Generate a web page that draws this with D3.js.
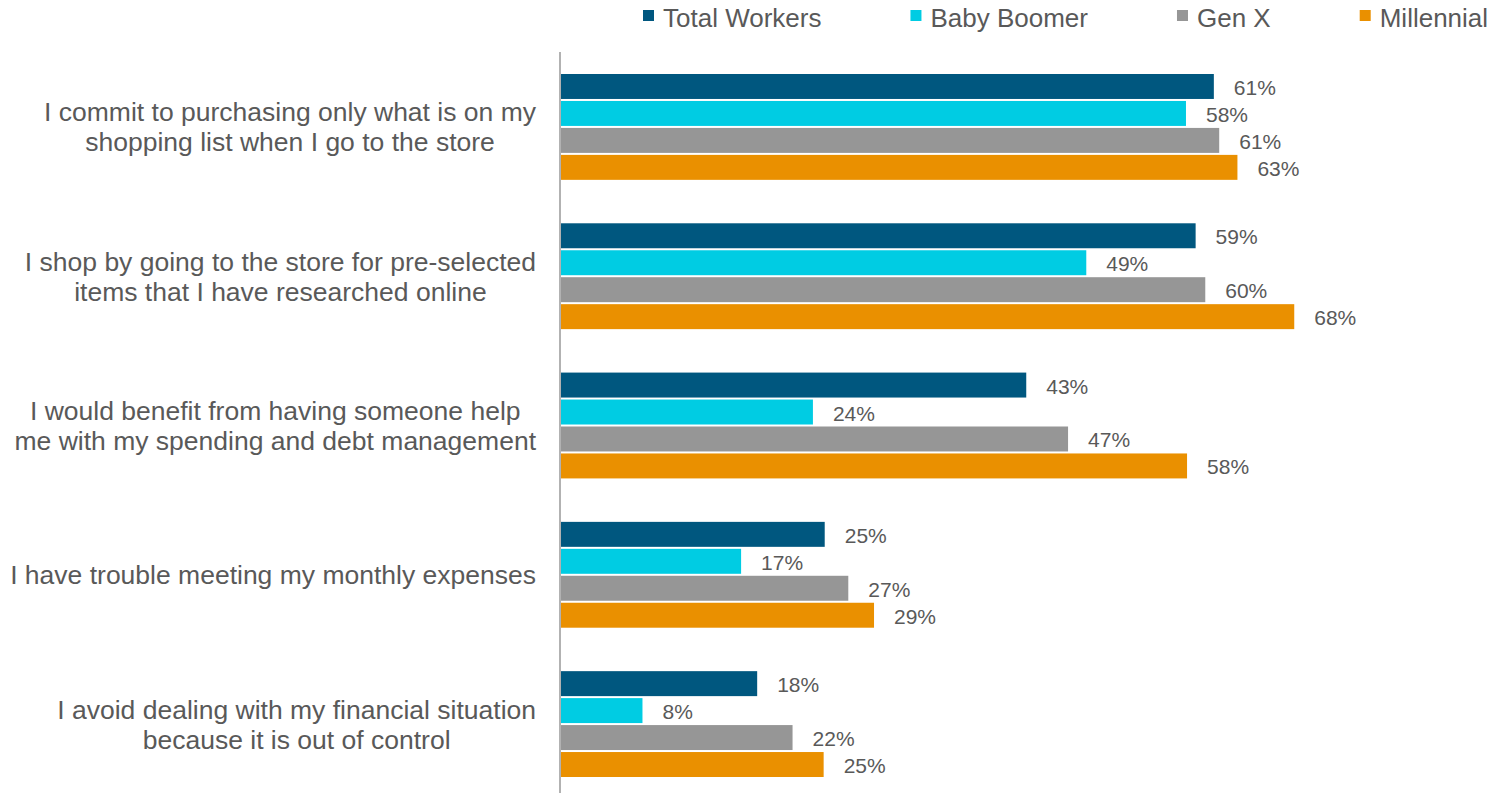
<!DOCTYPE html>
<html lang="en">
  <head>
    <meta charset="utf-8">
    <script src="https://d3js.org/d3.v7.min.js"></script>
    <style>
      body { margin: 0; background: #fff; }
      text { font-family: "Liberation Sans", Arial, sans-serif; fill: #595959; }
    </style>
  </head>
  <body>
    <div id="chart">
      <svg width="1489" height="793"></svg>
    </div>
    <script type="text/javascript">
      // Data
      var categories = [
        "I commit to purchasing only what is on my\nshopping list when I go to the store",
        "I shop by going to the store for pre-selected\nitems that I have researched online",
        "I would benefit from having someone help\nme with my spending and debt management",
        "I have trouble meeting my monthly expenses",
        "I avoid dealing with my financial situation\nbecause it is out of control"
      ];
      var seriesNames = ["Total Workers", "Baby Boomer", "Gen X", "Millennial"];
      var seriesColors = ["#00577f", "#00cce3", "#969696", "#ea9000"];
      var totalWorkers = [60.9, 59.2, 43.4, 24.6, 18.3];
      var babyBoomer   = [58.3, 49.0, 23.5, 16.8, 7.6];
      var genX         = [61.4, 60.1, 47.3, 26.8, 21.6];
      var millennial   = [63.1, 68.4, 58.4, 29.2, 24.5];
      var seriesValues = [totalWorkers, babyBoomer, genX, millennial];

      // SVG
      var svg = d3.select("svg");

      // Scales
      var xScale = d3.scaleLinear()
        .domain([0, 100])
        .range([561, 561 + 1072]);
      var yScale = d3.scaleBand()
        .domain(d3.range(categories.length))
        .range([74, 777])
        .paddingInner(0.291)
        .paddingOuter(0);
      var ySub = d3.scaleBand()
        .domain(d3.range(seriesNames.length))
        .range([0, yScale.bandwidth()])
        .paddingInner(0.074)
        .paddingOuter(0);

      // Bars and labels
      var labelSize = 21;
      seriesValues.forEach(function(vals, s) {
        var g = svg.append("g");
        g.selectAll("rect")
          .data(vals)
          .enter().append("rect")
          .attr("x", xScale(0))
          .attr("y", function(d, i) { return yScale(i) + ySub(s); })
          .attr("width", function(d) { return xScale(d) - xScale(0); })
          .attr("height", ySub.bandwidth())
          .style("fill", seriesColors[s]);
        g.selectAll("text")
          .data(vals)
          .enter().append("text")
          .attr("x", function(d) { return xScale(d) + 20; })
          .attr("y", function(d, i) {
            return yScale(i) + ySub(s) + ySub.bandwidth() / 2 + 0.358 * labelSize + 1;
          })
          .style("font-size", labelSize + "px")
          .text(function(d) { return Math.round(d) + "%"; });
      });

      // Vertical axis line
      svg.append("line")
        .attr("x1", 560).attr("x2", 560)
        .attr("y1", 52).attr("y2", 793)
        .style("stroke", "#999")
        .style("stroke-width", 1.5);

      // Category labels: block right-aligned, lines centered within block
      var catSize = 26.5, lineH = 30, rightEdge = 536;
      categories.forEach(function(c, i) {
        var lines = c.split("\n");
        var cy = yScale(i) + yScale.bandwidth() / 2;
        var t = svg.append("g");
        var texts = lines.map(function(line, j) {
          return t.append("text")
            .attr("y", cy + 0.358 * catSize + (j - (lines.length - 1) / 2) * lineH)
            .attr("text-anchor", "middle")
            .style("font-size", catSize + "px")
            .text(line);
        });
        var maxW = d3.max(texts, function(tx) { return tx.node().getComputedTextLength(); });
        texts.forEach(function(tx) { tx.attr("x", rightEdge - maxW / 2); });
      });

      // Legend
      var legendX = 643, gap = 89, legendSize = 26;
      seriesNames.forEach(function(name, s) {
        var g = svg.append("g");
        g.append("rect")
          .attr("x", legendX).attr("y", 10)
          .attr("width", 11).attr("height", 11)
          .style("fill", seriesColors[s]);
        var tx = g.append("text")
          .attr("x", legendX + 20)
          .attr("y", 26.5)
          .style("font-size", legendSize + "px")
          .text(name);
        legendX += 20 + tx.node().getComputedTextLength() + gap;
      });
    </script>
  </body>
</html>
